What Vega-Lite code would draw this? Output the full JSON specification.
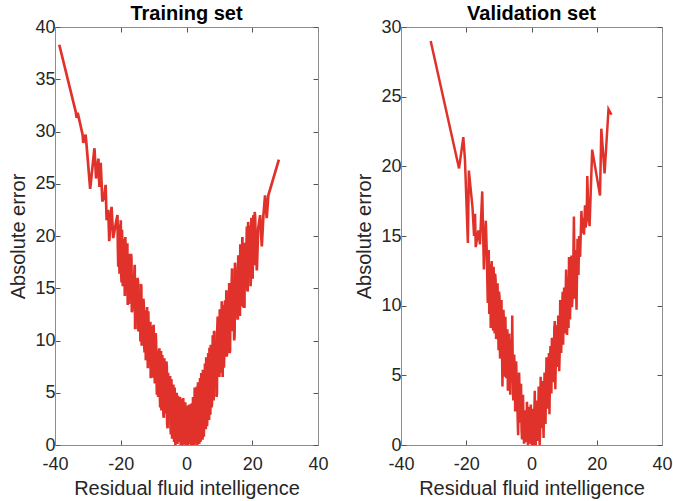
{
  "$schema": "https://vega.github.io/schema/vega-lite/v6.json",
  "background": "white",
  "padding": {"left": 8, "top": 4, "right": 5, "bottom": 5},
  "spacing": 25,
  "config": {
    "font": "Liberation Sans",
    "view": {"stroke": null},
    "axis": {
      "grid": false,
      "domainColor": "#8c8c8c",
      "domainWidth": 1,
      "tickColor": "#555555",
      "tickSize": -5,
      "labelPadding": 8,
      "labelFlush": false,
      "labelOverlap": false,
      "labelFont": "Liberation Sans",
      "labelFontSize": 18,
      "labelColor": "#262626",
      "labelExpr": "'' + datum.value",
      "titleFont": "Liberation Sans",
      "titleFontSize": 20,
      "titleFontWeight": "normal",
      "titleColor": "#262626"
    },
    "axisX": {"labelPadding": 15},
    "axisY": {"labelPadding": 5},
    "title": {"font": "Liberation Sans", "fontSize": 20, "fontWeight": "bold", "color": "#000000", "offset": -6}
  },
  "datasets": {
    "train": [
      {"x": -38.7, "y": 38.3}, {"x": -33.7, "y": 31.9}, {"x": -33.4, "y": 31.3}, {"x": -33.1, "y": 31.8},
      {"x": -31.6, "y": 29.7}, {"x": -31.4, "y": 28.9}, {"x": -30.7, "y": 29.7}, {"x": -30.4, "y": 28.7},
      {"x": -29.3, "y": 24.5}, {"x": -28.0, "y": 28.4}, {"x": -27.5, "y": 25.5}, {"x": -26.8, "y": 27.4},
      {"x": -26.5, "y": 24.7}, {"x": -26.1, "y": 27.0}, {"x": -25.6, "y": 23.3}, {"x": -25.0, "y": 23.8},
      {"x": -24.6, "y": 24.9}, {"x": -24.3, "y": 21.5}, {"x": -23.8, "y": 22.5}, {"x": -23.5, "y": 19.5},
      {"x": -22.8, "y": 22.8}, {"x": -22.3, "y": 19.8}, {"x": -21.5, "y": 21.2}, {"x": -21.2, "y": 21.7},
      {"x": -21.0, "y": 22.0}, {"x": -20.75, "y": 17.05}, {"x": -20.5, "y": 20.2}, {"x": -20.25, "y": 17.25},
      {"x": -20.0, "y": 21.5}, {"x": -19.75, "y": 15.55}, {"x": -19.5, "y": 18.5}, {"x": -19.25, "y": 16.75},
      {"x": -19.0, "y": 19.7}, {"x": -18.75, "y": 14.25}, {"x": -18.5, "y": 18.8}, {"x": -18.25, "y": 14.95},
      {"x": -18.0, "y": 19.3}, {"x": -17.75, "y": 15.75}, {"x": -17.5, "y": 13.5}, {"x": -17.25, "y": 17.25},
      {"x": -17.0, "y": 15.5}, {"x": -16.75, "y": 17.85}, {"x": -16.5, "y": 12.9}, {"x": -16.25, "y": 15.55},
      {"x": -16.0, "y": 13.3}, {"x": -15.75, "y": 17.25}, {"x": -15.5, "y": 11.2}, {"x": -15.25, "y": 14.75},
      {"x": -15.0, "y": 13.3}, {"x": -14.75, "y": 15.65}, {"x": -14.5, "y": 11.0}, {"x": -14.25, "y": 14.35},
      {"x": -14.0, "y": 9.9}, {"x": -13.75, "y": 15.15}, {"x": -13.5, "y": 11.2}, {"x": -13.25, "y": 12.15},
      {"x": -13.0, "y": 13.5}, {"x": -12.75, "y": 8.85}, {"x": -12.5, "y": 12.4}, {"x": -12.25, "y": 9.35},
      {"x": -12.0, "y": 13.2}, {"x": -11.75, "y": 7.35}, {"x": -11.5, "y": 10.2}, {"x": -11.25, "y": 9.35},
      {"x": -11.0, "y": 11.8}, {"x": -10.75, "y": 7.55}, {"x": -10.5, "y": 10.9}, {"x": -10.25, "y": 6.45},
      {"x": -10.0, "y": 11.5}, {"x": -9.75, "y": 7.25}, {"x": -9.5, "y": 8.6}, {"x": -9.25, "y": 9.85},
      {"x": -9.0, "y": 4.8}, {"x": -8.75, "y": 8.35}, {"x": -8.5, "y": 5.9}, {"x": -8.25, "y": 9.25},
      {"x": -8.0, "y": 3.6}, {"x": -7.75, "y": 9.0}, {"x": -7.5, "y": 4.2}, {"x": -7.25, "y": 7.8},
      {"x": -7.0, "y": 2.8}, {"x": -6.75, "y": 8.3}, {"x": -6.5, "y": 5.0}, {"x": -6.25, "y": 3.0},
      {"x": -6.0, "y": 7.5}, {"x": -5.75, "y": 1.6}, {"x": -5.5, "y": 6.2}, {"x": -5.25, "y": 4.0},
      {"x": -5.0, "y": 6.6}, {"x": -4.75, "y": 1.0}, {"x": -4.5, "y": 5.4}, {"x": -4.25, "y": 2.5},
      {"x": -4.0, "y": 5.8}, {"x": -3.75, "y": 0.3}, {"x": -3.5, "y": 4.4}, {"x": -3.25, "y": 1.5},
      {"x": -3.0, "y": 5.0}, {"x": -2.75, "y": 0.1}, {"x": -2.5, "y": 3.6}, {"x": -2.25, "y": 0.8},
      {"x": -2.0, "y": 4.6}, {"x": -1.75, "y": 0.0}, {"x": -1.5, "y": 2.9}, {"x": -1.25, "y": 0.4},
      {"x": -1.0, "y": 4.5}, {"x": -0.75, "y": 1.2}, {"x": -0.5, "y": 3.3}, {"x": -0.25, "y": 0.0},
      {"x": 0.0, "y": 2.2}, {"x": 0.25, "y": 0.3}, {"x": 0.5, "y": 3.8}, {"x": 0.75, "y": 0.1},
      {"x": 1.0, "y": 3.9}, {"x": 1.25, "y": 0.6}, {"x": 1.5, "y": 2.5}, {"x": 1.75, "y": 0.0},
      {"x": 2.0, "y": 4.6}, {"x": 2.25, "y": 0.9}, {"x": 2.5, "y": 5.5}, {"x": 2.75, "y": 0.2},
      {"x": 3.0, "y": 3.4}, {"x": 3.25, "y": 0.0}, {"x": 3.5, "y": 6.0}, {"x": 3.75, "y": 1.4},
      {"x": 4.0, "y": 4.8}, {"x": 4.25, "y": 0.3}, {"x": 4.5, "y": 6.9}, {"x": 4.75, "y": 2.5},
      {"x": 5.0, "y": 7.2}, {"x": 5.25, "y": 0.8}, {"x": 5.5, "y": 5.0}, {"x": 5.75, "y": 3.0},
      {"x": 6.0, "y": 8.4}, {"x": 6.25, "y": 1.8}, {"x": 6.5, "y": 6.5}, {"x": 6.75, "y": 3.6},
      {"x": 7.0, "y": 9.3}, {"x": 7.25, "y": 2.9}, {"x": 7.5, "y": 7.0}, {"x": 7.75, "y": 4.0},
      {"x": 8.0, "y": 10.5}, {"x": 8.25, "y": 4.25}, {"x": 8.5, "y": 10.8}, {"x": 8.75, "y": 6.25},
      {"x": 9.0, "y": 10.0}, {"x": 9.25, "y": 4.95}, {"x": 9.5, "y": 12.3}, {"x": 9.75, "y": 8.75},
      {"x": 10.0, "y": 6.5}, {"x": 10.25, "y": 11.75}, {"x": 10.5, "y": 8.8}, {"x": 10.75, "y": 13.75},
      {"x": 11.0, "y": 6.5}, {"x": 11.25, "y": 11.35}, {"x": 11.5, "y": 8.8}, {"x": 11.75, "y": 13.85},
      {"x": 12.0, "y": 10.7}, {"x": 12.25, "y": 8.45}, {"x": 12.5, "y": 13.9}, {"x": 12.75, "y": 10.65},
      {"x": 13.0, "y": 15.5}, {"x": 13.25, "y": 9.05}, {"x": 13.5, "y": 13.2}, {"x": 13.75, "y": 15.55},
      {"x": 14.0, "y": 10.9}, {"x": 14.25, "y": 14.85}, {"x": 14.5, "y": 10.0}, {"x": 14.75, "y": 17.45},
      {"x": 15.0, "y": 13.4}, {"x": 15.25, "y": 15.55}, {"x": 15.5, "y": 12.1}, {"x": 15.75, "y": 18.15},
      {"x": 16.0, "y": 15.3}, {"x": 16.25, "y": 12.35}, {"x": 16.5, "y": 17.6}, {"x": 16.75, "y": 14.35},
      {"x": 17.0, "y": 19.9}, {"x": 17.25, "y": 13.15}, {"x": 17.5, "y": 17.5}, {"x": 17.75, "y": 19.35},
      {"x": 18.0, "y": 15.2}, {"x": 18.25, "y": 19.05}, {"x": 18.5, "y": 14.9}, {"x": 18.75, "y": 21.35},
      {"x": 19.0, "y": 17.5}, {"x": 19.25, "y": 18.75}, {"x": 19.5, "y": 15.2}, {"x": 19.75, "y": 21.75},
      {"x": 20.0, "y": 18.1}, {"x": 20.25, "y": 21.55}, {"x": 20.5, "y": 17.2}, {"x": 20.75, "y": 22.3},
      {"x": 21.0, "y": 19.9}, {"x": 21.4, "y": 16.7}, {"x": 21.8, "y": 20.7}, {"x": 22.4, "y": 22.0},
      {"x": 22.9, "y": 19.0}, {"x": 23.4, "y": 22.0}, {"x": 23.9, "y": 23.9}, {"x": 24.4, "y": 21.7},
      {"x": 24.9, "y": 23.9}, {"x": 28.1, "y": 27.3},
      {"x": -20.875, "y": 18.9}, {"x": -20.625, "y": 21.1}, {"x": -20.375, "y": 16.4}, {"x": -20.125, "y": 19.4},
      {"x": -19.875, "y": 16.6}, {"x": -19.625, "y": 20.6}, {"x": -19.375, "y": 15.2}, {"x": -19.125, "y": 19.2},
      {"x": -18.875, "y": 16.4}, {"x": -18.625, "y": 19.9}, {"x": -18.375, "y": 14.9}, {"x": -18.125, "y": 16.8},
      {"x": -17.875, "y": 13.4}, {"x": -17.625, "y": 18.3}, {"x": -17.375, "y": 15.7}, {"x": -17.125, "y": 14.1},
      {"x": -16.875, "y": 18.3}, {"x": -16.625, "y": 12.7}, {"x": -16.375, "y": 16.2}, {"x": -16.125, "y": 13.8},
      {"x": -15.875, "y": 16.4}, {"x": -15.625, "y": 11.2}, {"x": -15.375, "y": 14.5}, {"x": -15.125, "y": 12.4},
      {"x": -14.875, "y": 16.0}, {"x": -14.625, "y": 11.0}, {"x": -14.375, "y": 13.9}, {"x": -14.125, "y": 12.2},
      {"x": -13.875, "y": 15.4}, {"x": -13.625, "y": 9.5}, {"x": -13.375, "y": 11.9}, {"x": -13.125, "y": 14.0},
      {"x": -12.875, "y": 9.8}, {"x": -12.625, "y": 12.9}, {"x": -12.375, "y": 8.1}, {"x": -12.125, "y": 11.5},
      {"x": -11.875, "y": 9.8}, {"x": -11.625, "y": 12.8}, {"x": -11.375, "y": 8.0}, {"x": -11.125, "y": 11.0},
      {"x": -10.875, "y": 6.4}, {"x": -10.625, "y": 9.4}, {"x": -10.375, "y": 11.4}, {"x": -10.125, "y": 7.3},
      {"x": -9.875, "y": 9.5}, {"x": -9.625, "y": 5.9}, {"x": -9.375, "y": 10.7}, {"x": -9.125, "y": 6.7},
      {"x": -8.875, "y": 8.1}, {"x": -8.625, "y": 4.6}, {"x": -8.375, "y": 9.0}, {"x": -8.125, "y": 5.2},
      {"x": -7.875, "y": 6.5}, {"x": -7.625, "y": 3.3}, {"x": -7.375, "y": 8.6}, {"x": -7.125, "y": 5.5},
      {"x": -6.875, "y": 2.6}, {"x": -6.625, "y": 7.2}, {"x": -6.375, "y": 4.1}, {"x": -6.125, "y": 8.0},
      {"x": -5.875, "y": 2.0}, {"x": -5.625, "y": 6.9}, {"x": -5.375, "y": 3.2}, {"x": -5.125, "y": 5.2},
      {"x": -4.875, "y": 1.8}, {"x": -4.625, "y": 6.3}, {"x": -4.375, "y": 0.6}, {"x": -4.125, "y": 4.8},
      {"x": -3.875, "y": 2.0}, {"x": -3.625, "y": 5.5}, {"x": -3.375, "y": 0.0}, {"x": -3.125, "y": 3.9},
      {"x": -2.875, "y": 2.2}, {"x": -2.625, "y": 4.7}, {"x": -2.375, "y": 0.3}, {"x": -2.125, "y": 2.8},
      {"x": -1.875, "y": 4.0}, {"x": -1.625, "y": 1.5}, {"x": -1.375, "y": 4.4}, {"x": -1.125, "y": 0.0},
      {"x": -0.875, "y": 3.0}, {"x": -0.625, "y": 0.1}, {"x": -0.375, "y": 4.1}, {"x": -0.125, "y": 1.5},
      {"x": 0.125, "y": 3.6}, {"x": 0.375, "y": 0.0}, {"x": 0.625, "y": 2.4}, {"x": 0.875, "y": 1.6},
      {"x": 1.125, "y": 3.2}, {"x": 1.375, "y": 0.0}, {"x": 1.625, "y": 4.0}, {"x": 1.875, "y": 1.9},
      {"x": 2.125, "y": 3.3}, {"x": 2.375, "y": 0.0}, {"x": 2.625, "y": 4.2}, {"x": 2.875, "y": 2.2},
      {"x": 3.125, "y": 5.6}, {"x": 3.375, "y": 1.0}, {"x": 3.625, "y": 4.2}, {"x": 3.875, "y": 0.1},
      {"x": 4.125, "y": 6.4}, {"x": 4.375, "y": 2.0}, {"x": 4.625, "y": 4.6}, {"x": 4.875, "y": 0.5},
      {"x": 5.125, "y": 5.8}, {"x": 5.375, "y": 2.3}, {"x": 5.625, "y": 7.8}, {"x": 5.875, "y": 1.5},
      {"x": 6.125, "y": 5.4}, {"x": 6.375, "y": 3.2}, {"x": 6.625, "y": 8.8}, {"x": 6.875, "y": 2.4},
      {"x": 7.125, "y": 6.0}, {"x": 7.375, "y": 9.6}, {"x": 7.625, "y": 3.6}, {"x": 7.875, "y": 8.2},
      {"x": 8.125, "y": 7.1}, {"x": 8.375, "y": 10.9}, {"x": 8.625, "y": 5.6}, {"x": 8.875, "y": 9.4},
      {"x": 9.125, "y": 4.6}, {"x": 9.375, "y": 11.1}, {"x": 9.625, "y": 7.6}, {"x": 9.875, "y": 9.9},
      {"x": 10.125, "y": 13.0}, {"x": 10.375, "y": 6.9}, {"x": 10.625, "y": 11.6}, {"x": 10.875, "y": 9.4},
      {"x": 11.125, "y": 13.4}, {"x": 11.375, "y": 7.4}, {"x": 11.625, "y": 11.1}, {"x": 11.875, "y": 9.4},
      {"x": 12.125, "y": 14.8}, {"x": 12.375, "y": 9.2}, {"x": 12.625, "y": 13.3}, {"x": 12.875, "y": 12.0},
      {"x": 13.125, "y": 8.8}, {"x": 13.375, "y": 14.9}, {"x": 13.625, "y": 11.8}, {"x": 13.875, "y": 16.9},
      {"x": 14.125, "y": 11.2}, {"x": 14.375, "y": 14.2}, {"x": 14.625, "y": 10.5}, {"x": 14.875, "y": 17.0},
      {"x": 15.125, "y": 13.9}, {"x": 15.375, "y": 16.6}, {"x": 15.625, "y": 12.0}, {"x": 15.875, "y": 16.3},
      {"x": 16.125, "y": 13.9}, {"x": 16.375, "y": 19.2}, {"x": 16.625, "y": 13.3}, {"x": 16.875, "y": 17.8},
      {"x": 17.125, "y": 15.7}, {"x": 17.375, "y": 19.3}, {"x": 17.625, "y": 13.1}, {"x": 17.875, "y": 18.1},
      {"x": 18.125, "y": 15.6}, {"x": 18.375, "y": 20.9}, {"x": 18.625, "y": 14.7}, {"x": 18.875, "y": 19.4},
      {"x": 19.125, "y": 18.4}, {"x": 19.375, "y": 21.0}, {"x": 19.625, "y": 16.6}, {"x": 19.875, "y": 19.6},
      {"x": 20.125, "y": 15.9}, {"x": 20.375, "y": 22.0}, {"x": 20.625, "y": 18.6}, {"x": 20.875, "y": 21.9}
    ],
    "val": [
      {"x": -30.9, "y": 29.0}, {"x": -22.2, "y": 19.85}, {"x": -20.9, "y": 22.1}, {"x": -20.4, "y": 20.5},
      {"x": -19.5, "y": 14.5}, {"x": -19.2, "y": 19.7}, {"x": -18.1, "y": 17.1}, {"x": -17.6, "y": 15.0},
      {"x": -17.3, "y": 16.6}, {"x": -17.1, "y": 14.2}, {"x": -16.3, "y": 15.4}, {"x": -15.8, "y": 14.4},
      {"x": -15.1, "y": 18.2}, {"x": -14.6, "y": 12.6}, {"x": -14.3, "y": 14.8}, {"x": -14.0, "y": 16.1},
      {"x": -13.7, "y": 13.8}, {"x": -13.4, "y": 10.2}, {"x": -13.1, "y": 14.0}, {"x": -12.8, "y": 11.5},
      {"x": -12.5, "y": 8.4}, {"x": -12.2, "y": 13.2}, {"x": -11.9, "y": 9.6}, {"x": -11.6, "y": 12.8},
      {"x": -11.3, "y": 8.0}, {"x": -11.0, "y": 11.9}, {"x": -10.7, "y": 9.2}, {"x": -10.4, "y": 11.6},
      {"x": -10.1, "y": 6.8}, {"x": -9.8, "y": 10.6}, {"x": -9.5, "y": 7.6}, {"x": -9.2, "y": 10.4},
      {"x": -8.9, "y": 4.2}, {"x": -8.6, "y": 9.7}, {"x": -8.3, "y": 6.0}, {"x": -8.0, "y": 9.2},
      {"x": -7.7, "y": 4.8}, {"x": -7.4, "y": 8.3}, {"x": -7.1, "y": 5.9}, {"x": -6.8, "y": 8.0},
      {"x": -6.5, "y": 3.6}, {"x": -6.2, "y": 7.2}, {"x": -5.9, "y": 9.3}, {"x": -5.6, "y": 3.2},
      {"x": -5.3, "y": 6.5}, {"x": -5.0, "y": 2.4}, {"x": -4.7, "y": 6.0}, {"x": -4.4, "y": 3.8},
      {"x": -4.1, "y": 0.7}, {"x": -3.8, "y": 5.2}, {"x": -3.5, "y": 1.6}, {"x": -3.2, "y": 4.4},
      {"x": -2.9, "y": 0.4}, {"x": -2.6, "y": 3.6}, {"x": -2.3, "y": 0.1}, {"x": -2.0, "y": 2.5},
      {"x": -1.7, "y": 0.9}, {"x": -1.4, "y": 3.1}, {"x": -1.1, "y": 0.0}, {"x": -0.8, "y": 2.75},
      {"x": -0.5, "y": 0.5}, {"x": -0.2, "y": 2.9}, {"x": 0.1, "y": 0.0}, {"x": 0.4, "y": 1.8},
      {"x": 0.7, "y": 0.2}, {"x": 1.0, "y": 3.9}, {"x": 1.3, "y": 0.0}, {"x": 1.6, "y": 2.6},
      {"x": 1.9, "y": 0.3}, {"x": 2.2, "y": 4.2}, {"x": 2.5, "y": 0.0}, {"x": 2.8, "y": 4.9},
      {"x": 3.1, "y": 1.2}, {"x": 3.4, "y": 3.8}, {"x": 3.7, "y": 0.5}, {"x": 4.0, "y": 5.2},
      {"x": 4.3, "y": 1.5}, {"x": 4.6, "y": 6.3}, {"x": 4.9, "y": 2.6}, {"x": 5.2, "y": 5.6},
      {"x": 5.5, "y": 2.2}, {"x": 5.8, "y": 7.1}, {"x": 6.1, "y": 3.7}, {"x": 6.4, "y": 6.8},
      {"x": 6.7, "y": 4.5}, {"x": 7.0, "y": 8.4}, {"x": 7.3, "y": 4.0}, {"x": 7.6, "y": 7.8},
      {"x": 7.9, "y": 5.6}, {"x": 8.2, "y": 9.3}, {"x": 8.5, "y": 5.3}, {"x": 8.8, "y": 10.4},
      {"x": 9.1, "y": 6.6}, {"x": 9.4, "y": 9.9}, {"x": 9.7, "y": 7.2}, {"x": 10.0, "y": 11.3},
      {"x": 10.3, "y": 8.0}, {"x": 10.6, "y": 12.6}, {"x": 10.9, "y": 7.9}, {"x": 11.2, "y": 11.0},
      {"x": 11.5, "y": 13.5}, {"x": 11.8, "y": 9.0}, {"x": 12.1, "y": 12.4}, {"x": 12.4, "y": 9.9},
      {"x": 12.7, "y": 11.0}, {"x": 13.0, "y": 16.4}, {"x": 13.3, "y": 10.5}, {"x": 13.5, "y": 14.0},
      {"x": 13.8, "y": 9.7}, {"x": 14.1, "y": 14.8}, {"x": 14.4, "y": 12.2}, {"x": 14.6, "y": 15.0},
      {"x": 14.9, "y": 13.5}, {"x": 15.3, "y": 16.8}, {"x": 15.6, "y": 15.2}, {"x": 15.9, "y": 16.3},
      {"x": 16.1, "y": 15.1}, {"x": 16.4, "y": 17.2}, {"x": 16.6, "y": 15.6}, {"x": 16.9, "y": 16.1},
      {"x": 17.1, "y": 19.3}, {"x": 17.4, "y": 17.0}, {"x": 17.8, "y": 15.7}, {"x": 18.6, "y": 21.2},
      {"x": 21.0, "y": 17.9}, {"x": 21.4, "y": 22.7}, {"x": 22.4, "y": 19.5}, {"x": 23.6, "y": 24.1},
      {"x": 24.5, "y": 23.7},
      {"x": -13.55, "y": 11.8}, {"x": -13.25, "y": 12.6}, {"x": -12.95, "y": 9.4}, {"x": -12.65, "y": 13.0},
      {"x": -12.35, "y": 10.6}, {"x": -12.05, "y": 11.1}, {"x": -11.75, "y": 8.2}, {"x": -11.45, "y": 10.8},
      {"x": -11.15, "y": 12.3}, {"x": -10.85, "y": 7.6}, {"x": -10.55, "y": 10.2}, {"x": -10.25, "y": 8.9},
      {"x": -9.95, "y": 11.0}, {"x": -9.65, "y": 6.2}, {"x": -9.35, "y": 8.6}, {"x": -9.05, "y": 7.1},
      {"x": -8.75, "y": 7.8}, {"x": -8.45, "y": 8.9}, {"x": -8.15, "y": 4.9}, {"x": -7.85, "y": 7.0},
      {"x": -7.55, "y": 6.1}, {"x": -7.25, "y": 3.9}, {"x": -6.95, "y": 6.9}, {"x": -6.65, "y": 5.2},
      {"x": -6.35, "y": 7.6}, {"x": -6.05, "y": 4.5}, {"x": -5.75, "y": 5.8}, {"x": -5.45, "y": 4.6},
      {"x": -5.15, "y": 5.4}, {"x": -4.85, "y": 3.1}, {"x": -4.55, "y": 4.6}, {"x": -4.25, "y": 2.0},
      {"x": -3.95, "y": 3.4}, {"x": -3.65, "y": 4.0}, {"x": -3.35, "y": 2.3}, {"x": -3.05, "y": 1.1},
      {"x": -2.75, "y": 2.6}, {"x": -2.45, "y": 1.5}, {"x": -2.15, "y": 0.3}, {"x": -1.85, "y": 1.9},
      {"x": -1.55, "y": 0.2}, {"x": -1.25, "y": 2.2}, {"x": -0.95, "y": 1.0}, {"x": -0.65, "y": 0.1},
      {"x": -0.35, "y": 1.8}, {"x": -0.05, "y": 0.6}, {"x": 0.25, "y": 2.6}, {"x": 0.55, "y": 0.0},
      {"x": 0.85, "y": 2.0}, {"x": 1.15, "y": 1.1}, {"x": 1.45, "y": 3.2}, {"x": 1.75, "y": 0.5},
      {"x": 2.05, "y": 1.6}, {"x": 2.35, "y": 3.0}, {"x": 2.65, "y": 0.9}, {"x": 2.95, "y": 2.4},
      {"x": 3.25, "y": 4.6}, {"x": 3.55, "y": 2.2}, {"x": 3.85, "y": 3.1}, {"x": 4.15, "y": 3.6},
      {"x": 4.45, "y": 4.2}, {"x": 4.75, "y": 5.1}, {"x": 5.05, "y": 4.0}, {"x": 5.35, "y": 6.6},
      {"x": 5.65, "y": 4.8}, {"x": 5.95, "y": 5.3}, {"x": 6.25, "y": 7.7}, {"x": 6.55, "y": 5.5},
      {"x": 6.85, "y": 6.4}, {"x": 7.15, "y": 8.9}, {"x": 7.45, "y": 6.0}, {"x": 7.75, "y": 8.6},
      {"x": 8.05, "y": 7.2}, {"x": 8.35, "y": 8.0}, {"x": 8.65, "y": 6.7}, {"x": 8.95, "y": 9.0},
      {"x": 9.25, "y": 8.1}, {"x": 9.55, "y": 11.0}, {"x": 9.85, "y": 9.4}, {"x": 10.15, "y": 9.0},
      {"x": 10.45, "y": 10.3}, {"x": 10.75, "y": 11.4}, {"x": 11.05, "y": 9.8}, {"x": 11.35, "y": 8.4},
      {"x": 11.65, "y": 12.3}, {"x": 11.95, "y": 11.0}, {"x": 12.25, "y": 13.6}
    ]
  },
  "hconcat": [
    {
      "width": 263,
      "height": 418,
      "title": "Training set",
      "data": {"name": "train"},
      "layer": [
        {
          "mark": {"type": "line", "color": "#e0322a", "strokeWidth": 2.7},
          "encoding": {
            "x": {"field": "x", "type": "quantitative", "scale": {"domain": [-40, 40], "nice": false},
                  "axis": {"values": [-40, -20, 0, 20, 40], "title": "Residual fluid intelligence", "titlePadding": 5}},
            "y": {"field": "y", "type": "quantitative", "scale": {"domain": [0, 40], "nice": false, "zero": false},
                  "axis": {"values": [0, 5, 10, 15, 20, 25, 30, 35, 40], "title": "Absolute error", "titlePadding": 6}}
          }
        },
        {
          "mark": {"type": "line", "opacity": 0},
          "encoding": {
            "x": {"field": "x", "type": "quantitative", "axis": {"orient": "top", "labels": false, "title": null, "values": [-40, -20, 0, 20, 40]}},
            "y": {"field": "y", "type": "quantitative", "axis": {"orient": "right", "labels": false, "title": null, "values": [0, 5, 10, 15, 20, 25, 30, 35, 40]}}
          }
        }
      ],
      "resolve": {"axis": {"x": "independent", "y": "independent"}}
    },
    {
      "width": 261,
      "height": 418,
      "title": "Validation set",
      "data": {"name": "val"},
      "layer": [
        {
          "mark": {"type": "line", "color": "#e0322a", "strokeWidth": 2.5},
          "encoding": {
            "x": {"field": "x", "type": "quantitative", "scale": {"domain": [-40, 40], "nice": false},
                  "axis": {"values": [-40, -20, 0, 20, 40], "title": "Residual fluid intelligence", "titlePadding": 5}},
            "y": {"field": "y", "type": "quantitative", "scale": {"domain": [0, 30], "nice": false, "zero": false},
                  "axis": {"values": [0, 5, 10, 15, 20, 25, 30], "title": "Absolute error", "titlePadding": 6}}
          }
        },
        {
          "mark": {"type": "line", "opacity": 0},
          "encoding": {
            "x": {"field": "x", "type": "quantitative", "axis": {"orient": "top", "labels": false, "title": null, "values": [-40, -20, 0, 20, 40]}},
            "y": {"field": "y", "type": "quantitative", "axis": {"orient": "right", "labels": false, "title": null, "values": [0, 5, 10, 15, 20, 25, 30]}}
          }
        }
      ],
      "resolve": {"axis": {"x": "independent", "y": "independent"}}
    }
  ]
}
